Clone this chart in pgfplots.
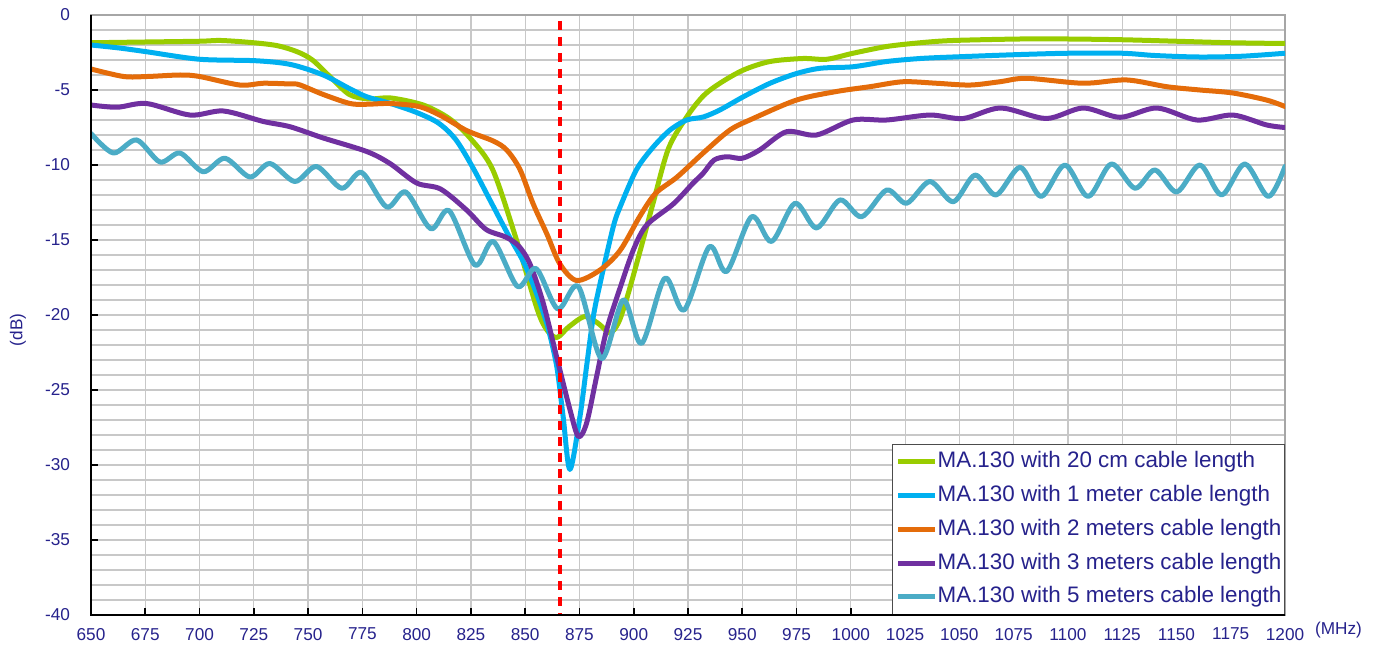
\documentclass[border=0pt]{standalone}
\usepackage{fontspec}
\setmainfont{Liberation Sans}
\usepackage{pgfplots}
\pgfplotsset{compat=1.18}
\definecolor{c1}{RGB}{153,204,0}
\definecolor{c2}{RGB}{0,176,240}
\definecolor{c3}{RGB}{228,108,10}
\definecolor{c4}{RGB}{112,48,160}
\definecolor{c5}{RGB}{75,172,198}
\definecolor{navy}{RGB}{38,34,140}
\definecolor{gridc}{RGB}{200,200,200}
\begin{document}
\begin{tikzpicture}
\path[use as bounding box] (-45.5bp,-18bp) rectangle (642.5bp,307.5bp);
\begin{axis}[
 name=ax,
 at={(0,0)}, anchor=south west,
 scale only axis, width=597bp, height=300bp,
 xmin=650, xmax=1200, ymin=-40, ymax=0,
 xtick distance=25, ytick distance=5, minor y tick num=4,
 grid=both,
 major grid style={gridc, line width=0.6bp},
 minor grid style={gridc, line width=0.6bp},
 axis line style={draw=black!35, line width=0.6bp},
 tick align=inside, xtick pos=left, ytick pos=left,
 major tick length=3.5bp, minor tick length=0pt,
 tick style={black, line width=0.8bp},
 ticklabel style={font=\fontsize{8.6bp}{10bp}\selectfont, text=navy},
 /pgf/number format/assume math mode=true,
 /pgf/number format/1000 sep={},
 yticklabel style={xshift=-7bp},
 xticklabel style={yshift=-3bp},
 ylabel={(dB)},
 ylabel style={at={(axis description cs:0,0.475)}, anchor=center, yshift=36.5bp, font=\fontsize{8.6bp}{10bp}\selectfont, text=navy},
 xlabel={(MHz)},
 xlabel style={at={(axis description cs:1,0)}, anchor=west, xshift=11.5bp, yshift=-7.5bp, font=\fontsize{8.6bp}{10bp}\selectfont, text=navy},
 legend style={at={(rel axis cs:1,0)}, anchor=south east, draw=black!70, line width=0.7bp, fill=white,
   font=\fontsize{11.2bp}{13bp}\selectfont, text=navy, inner xsep=1.5bp, inner ysep=3.2bp,
   row sep=5.9bp, column sep=0pt, nodes={inner sep=0pt, text height=8.5bp, text depth=2.5bp}},
 legend cell align=left,
 legend image code/.code={\draw[#1, line cap=butt] (1bp,0bp) -- (19.5bp,0bp);},
 every axis plot/.append style={line width=2.5bp, line join=round, line cap=round},
]
\addplot[c1, smooth] coordinates {
(650,-1.85) (675,-1.8) (700,-1.75) (710,-1.7) (725,-1.85) (736,-2.05) (745,-2.45) (752,-3.0)
(760,-4.1) (769,-5.3) (778,-5.6) (788,-5.53) (803,-6.0) (815,-6.9) (824.6,-8.2) (835,-10.3) (846,-15.0)
(855.5,-19.6) (860,-21.0) (864.6,-21.5) (870,-20.8) (877.5,-20.1) (884,-20.6) (889,-21.2)
(893,-20.5) (897,-18.8) (903,-15.7) (909,-12.5) (916,-8.9) (924.4,-6.8) (932,-5.4) (939.7,-4.55)
(950.5,-3.67) (962.8,-3.1) (978,-2.9) (989,-2.95) (1001,-2.55) (1016.5,-2.1) (1032,-1.85)
(1047,-1.7) (1078,-1.6) (1100,-1.6) (1125,-1.65) (1150,-1.75) (1175,-1.85) (1200,-1.9)
};
\addlegendentry{MA.130 with 20 cm cable length}
\addplot[c2, smooth] coordinates {
(650,-2.0) (663,-2.2) (675.6,-2.45) (700,-2.95) (726,-3.05) (742,-3.3) (757,-4.0) (769,-4.9)
(777,-5.45) (788,-5.9) (800,-6.5) (810,-7.2) (818,-8.3) (826,-10.2) (834,-12.4) (842,-14.6)
(849,-16.4) (854,-18.1) (860,-20.6) (864.5,-23.4) (867.5,-26.8) (870.6,-30.3) (875.2,-26.8) (878.3,-23.4)
(881.4,-20.1) (884.5,-17.9) (890.6,-14.1) (894,-12.7) (901.3,-10.3) (909,-8.8) (916.7,-7.67)
(924.4,-7.0) (932,-6.8) (939.7,-6.33) (950.5,-5.45) (962.8,-4.55) (975,-3.9) (986,-3.55)
(1001,-3.45) (1016.5,-3.1) (1032,-2.9) (1047,-2.8) (1075,-2.65) (1100,-2.55) (1125,-2.55)
(1140,-2.7) (1160,-2.8) (1180,-2.75) (1200,-2.55)
};
\addlegendentry{MA.130 with 1 meter cable length}
\addplot[c3, smooth] coordinates {
(650,-3.6) (665,-4.1) (676,-4.1) (691,-4.0) (700,-4.1) (718.6,-4.67) (729.4,-4.55) (741.7,-4.6)
(746,-4.65) (757,-5.3) (769.3,-5.9) (777,-5.95) (787.7,-5.9) (801,-6.1) (811,-6.7) (823,-7.7)
(835.3,-8.4) (841.5,-9.0) (847.6,-10.3) (853.7,-12.6) (860,-14.6) (866,-16.6) (873.7,-17.7)
(884.5,-17.0) (893.7,-15.7) (902.9,-13.4) (910,-11.9) (920,-10.8) (932,-9.2) (944.3,-7.67)
(955,-6.9) (975,-5.67) (993.4,-5.1) (1008.8,-4.78) (1024,-4.45) (1039.4,-4.55) (1054.9,-4.67)
(1068.7,-4.45) (1081,-4.22) (1107,-4.55) (1127,-4.33) (1145.5,-4.78) (1160.8,-5.0) (1176,-5.2)
(1191.5,-5.67) (1200,-6.1)
};
\addlegendentry{MA.130 with 2 meters cable length}
\addplot[c4, smooth] coordinates {
(650,-6.0) (662,-6.15) (675.6,-5.9) (695.6,-6.67) (711,-6.4) (729.4,-7.1) (741.7,-7.45) (757,-8.2)
(777,-9.1) (787.7,-9.9) (800,-11.2) (811,-11.6) (823,-13.0) (832,-14.3) (841,-14.8) (847,-15.4)
(852.2,-16.6) (858.3,-19.2) (864.5,-22.8) (870.6,-26.3) (874.5,-28.1) (878.3,-27.2) (882.9,-24.1)
(887.5,-21.0) (893.7,-18.2) (900,-15.6) (906,-14.0) (918.2,-12.6) (927.4,-11.2) (932,-10.55)
(937,-9.67) (943,-9.45) (950,-9.55) (958,-9.0) (970.4,-7.78) (984.2,-8.0) (1001,-7.0)
(1016.5,-7.0) (1036.4,-6.67) (1051.8,-6.9) (1069,-6.2) (1090,-6.9) (1107,-6.2) (1124,-6.82)
(1141,-6.2) (1159.3,-7.0) (1176,-6.67) (1191.5,-7.33) (1200,-7.5)
};
\addlegendentry{MA.130 with 3 meters cable length}
\addplot[c5, smooth] coordinates {
(650,-7.9) (660.3,-9.2) (671,-8.33) (681.8,-9.8) (691,-9.2) (701.7,-10.45) (711.7,-9.55)
(723.2,-10.8) (732.4,-9.9) (743.9,-11.1) (753.9,-10.1) (765.5,-11.55) (774.7,-10.5) (786.2,-12.8)
(795,-11.8) (806.5,-14.25) (815,-13.05) (826.9,-16.67) (835.3,-15.1) (846.5,-18.1) (855,-16.9)
(865,-19.6) (874.5,-18.1) (885.2,-22.9) (895.2,-19.0) (903.6,-21.9) (914.3,-17.55) (923.2,-19.67)
(934.8,-15.45) (942.8,-17.1) (954.3,-13.45) (963.5,-15.1) (974.3,-12.55) (984.2,-14.2)
(995,-12.33) (1005,-13.45) (1016.5,-11.67) (1025.7,-12.55) (1036.4,-11.1) (1047.2,-12.45)
(1057.2,-10.67) (1066.9,-12.0) (1078,-10.15) (1087.7,-12.1) (1098.6,-10.0) (1109.3,-12.1)
(1120,-9.93) (1130.9,-11.55) (1140.1,-10.33) (1150.1,-11.8) (1160.8,-10.0) (1170.8,-12.0)
(1181.5,-9.93) (1192.3,-12.1) (1200,-10.1)
};
\addlegendentry{MA.130 with 5 meters cable length}
\addplot[red, line width=1.7bp, dash pattern=on 4.5bp off 3.5bp, line cap=butt, forget plot] coordinates {(866,-0.4) (866,-40)};
\end{axis}
\draw[black, line width=1.2bp] (ax.north west) -- (ax.south west) -- (ax.south east);
\end{tikzpicture}
\end{document}
